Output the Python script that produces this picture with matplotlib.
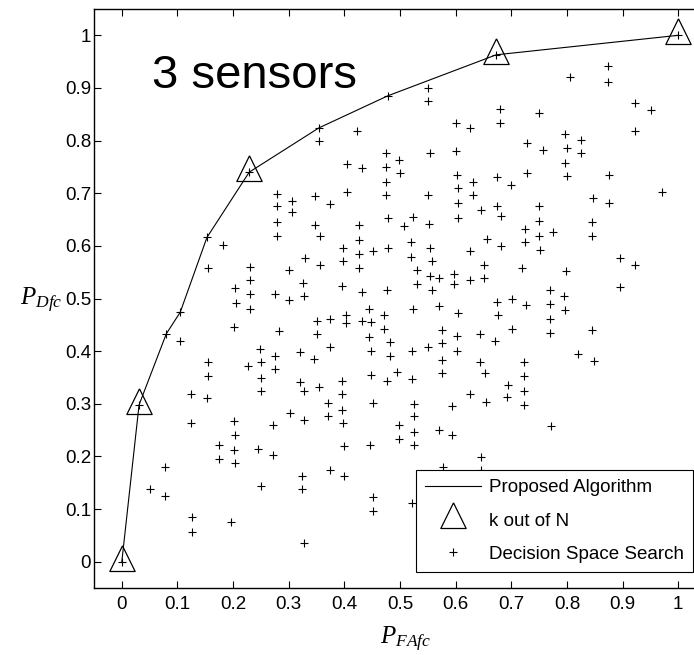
import matplotlib
matplotlib.use('Agg')
import matplotlib.pyplot as plt

plt.rcParams['font.family'] = ['Liberation Sans', 'DejaVu Sans']
plt.rcParams['mathtext.fontset'] = 'custom'
plt.rcParams['mathtext.it'] = 'Liberation Serif:italic'
plt.rcParams['mathtext.rm'] = 'Liberation Serif'

# ROC of the proposed algorithm
alg_x = [0, 0.031, 0.080, 0.105, 0.153, 0.229, 0.354, 0.478, 0.673, 1.0]
alg_y = [0, 0.298, 0.433, 0.474, 0.616, 0.740, 0.824, 0.885, 0.963, 1.0]

# k out of N rules
kn_x = [0, 0.031, 0.229, 0.673, 1.0]
kn_y = [0, 0.298, 0.740, 0.963, 1.0]

# decision space search points
ds_x = [0, 0.031, 0.229, 0.673, 1.0, 0.080, 0.105, 0.153, 0.354, 0.478,
        0.354, 0.423, 0.474, 0.499, 0.405, 0.431, 0.474, 0.500, 0.474, 0.474,
        0.405, 0.279, 0.279, 0.306, 0.306, 0.348, 0.375,
        0.550, 0.550, 0.805, 0.873, 0.873, 0.679, 0.679, 0.750, 0.600, 0.626,
        0.923, 0.952, 0.923, 0.554, 0.600, 0.729, 0.757, 0.797, 0.826, 0.800,
        0.826, 0.797, 0.800, 0.875, 0.550, 0.603, 0.605, 0.631, 0.631, 0.674,
        0.699, 0.729, 0.605, 0.645, 0.674, 0.750, 0.847, 0.876, 0.971,
        0.279, 0.279, 0.348, 0.357, 0.426, 0.426, 0.479, 0.181, 0.155, 0.231,
        0.231, 0.231, 0.231, 0.203, 0.206, 0.275, 0.300, 0.300, 0.330, 0.357,
        0.325, 0.327, 0.398, 0.398, 0.426, 0.426, 0.452, 0.479, 0.396, 0.431,
        0.477, 0.105, 0.201, 0.282, 0.351, 0.375, 0.403, 0.403, 0.431, 0.444,
        0.447, 0.472, 0.472, 0.351, 0.444, 0.482, 0.447, 0.482, 0.375, 0.320,
        0.345, 0.249, 0.251, 0.276, 0.276, 0.226, 0.155, 0.155, 0.251, 0.251,
        0.320, 0.327, 0.355, 0.396, 0.396, 0.448, 0.476, 0.494, 0.124, 0.153,
        0.370, 0.396, 0.370, 0.398, 0.451, 0.302, 0.327, 0.272, 0.201, 0.203,
        0.124, 0.175, 0.201, 0.175, 0.203, 0.244, 0.272, 0.400, 0.446, 0.499,
        0.499, 0.077, 0.077, 0.050, 0.323, 0.323, 0.375, 0.400, 0.251, 0.127,
        0.127, 0.196, 0.327, 0.451, 0.451,
        0.524, 0.507, 0.553, 0.605, 0.681, 0.750, 0.750, 0.775, 0.751, 0.724,
        0.724, 0.845, 0.845, 0.656, 0.681, 0.625, 0.520, 0.554, 0.520, 0.557,
        0.530, 0.554, 0.570, 0.597, 0.597, 0.625, 0.651, 0.651, 0.530, 0.557,
        0.719, 0.799, 0.896, 0.922, 0.896, 0.524, 0.570, 0.605, 0.674, 0.701,
        0.727, 0.676, 0.769, 0.769, 0.795, 0.797, 0.769, 0.769, 0.845, 0.575,
        0.575, 0.603, 0.603, 0.643, 0.671, 0.701, 0.550, 0.521, 0.575, 0.575,
        0.521, 0.643, 0.653, 0.722, 0.722, 0.722, 0.694, 0.820, 0.848, 0.625,
        0.526, 0.526, 0.526, 0.526, 0.570, 0.594, 0.594, 0.654, 0.693, 0.723,
        0.772, 0.645, 0.645, 0.577, 0.521]
ds_y = [0, 0.298, 0.740, 0.963, 1.0, 0.433, 0.474, 0.616, 0.824, 0.885,
        0.799, 0.818, 0.777, 0.764, 0.755, 0.747, 0.749, 0.738, 0.721, 0.697,
        0.702, 0.699, 0.675, 0.686, 0.664, 0.694, 0.679,
        0.900, 0.875, 0.921, 0.941, 0.912, 0.860, 0.834, 0.853, 0.834, 0.823,
        0.872, 0.859, 0.818, 0.776, 0.780, 0.795, 0.783, 0.812, 0.802, 0.786,
        0.776, 0.757, 0.732, 0.735, 0.697, 0.735, 0.709, 0.721, 0.697, 0.730,
        0.716, 0.738, 0.681, 0.668, 0.675, 0.675, 0.691, 0.681, 0.702,
        0.645, 0.618, 0.639, 0.618, 0.639, 0.612, 0.652, 0.602, 0.558, 0.560,
        0.536, 0.508, 0.481, 0.520, 0.492, 0.509, 0.497, 0.555, 0.577, 0.563,
        0.529, 0.505, 0.596, 0.571, 0.584, 0.558, 0.591, 0.596, 0.524, 0.512,
        0.516, 0.420, 0.445, 0.439, 0.457, 0.462, 0.468, 0.453, 0.457, 0.481,
        0.456, 0.469, 0.443, 0.433, 0.426, 0.418, 0.401, 0.391, 0.407, 0.398,
        0.385, 0.404, 0.379, 0.391, 0.366, 0.371, 0.379, 0.352, 0.349, 0.324,
        0.341, 0.325, 0.331, 0.344, 0.319, 0.355, 0.343, 0.360, 0.318, 0.311,
        0.301, 0.289, 0.276, 0.263, 0.301, 0.282, 0.270, 0.260, 0.267, 0.241,
        0.263, 0.221, 0.212, 0.196, 0.187, 0.215, 0.202, 0.219, 0.221, 0.260,
        0.234, 0.179, 0.125, 0.138, 0.163, 0.138, 0.174, 0.163, 0.144, 0.084,
        0.057, 0.076, 0.035, 0.122, 0.097,
        0.654, 0.637, 0.641, 0.653, 0.657, 0.647, 0.619, 0.626, 0.593, 0.632,
        0.607, 0.645, 0.618, 0.613, 0.599, 0.590, 0.607, 0.596, 0.579, 0.571,
        0.555, 0.543, 0.539, 0.546, 0.527, 0.536, 0.563, 0.539, 0.528, 0.516,
        0.558, 0.552, 0.577, 0.563, 0.522, 0.481, 0.485, 0.473, 0.493, 0.500,
        0.487, 0.468, 0.517, 0.490, 0.505, 0.478, 0.462, 0.435, 0.440, 0.440,
        0.415, 0.428, 0.401, 0.433, 0.420, 0.442, 0.408, 0.401, 0.384, 0.359,
        0.347, 0.379, 0.359, 0.379, 0.352, 0.325, 0.336, 0.395, 0.382, 0.318,
        0.300, 0.277, 0.246, 0.221, 0.250, 0.240, 0.296, 0.304, 0.312, 0.297,
        0.257, 0.199, 0.175, 0.180, 0.112]

ticks = [0, 0.1, 0.2, 0.3, 0.4, 0.5, 0.6, 0.7, 0.8, 0.9, 1]
tick_labels = ['0', '0.1', '0.2', '0.3', '0.4', '0.5', '0.6', '0.7', '0.8', '0.9', '1']

# matlab-like triangle, data point sits low inside the marker
tri = [(0, 1), (-0.76, -0.54), (0.76, -0.54), (0, 1)]

fig = plt.figure(figsize=(6.94, 6.55), dpi=100)
ax = fig.add_axes([94/694, 67/655, 612/694, 579/655])

ax.plot(alg_x, alg_y, 'k-', lw=0.8, label='Proposed Algorithm')
ax.plot(kn_x, kn_y, ls='none', marker=tri, ms=24, mfc='none', mec='k', mew=0.9,
        label='k out of N')
ax.plot(ds_x, ds_y, 'k+', ms=6, mew=0.8, label='Decision Space Search')

ax.set_xlim(-0.05, 1.05)
ax.set_ylim(-0.05, 1.05)
ax.set_xticks(ticks)
ax.set_xticklabels(tick_labels)
ax.set_yticks(ticks)
ax.set_yticklabels(tick_labels)
ax.tick_params(direction='in', top=True, right=True, length=4.7, width=0.8,
               labelsize=13.5)
ax.tick_params(axis='y', pad=2)
ax.tick_params(axis='x', pad=6)
for s in ax.spines.values():
    s.set_linewidth(1.0)

ax.text(0.054, 0.9, '3 sensors', fontsize=34, va='baseline')

fig.text(20/694, (655-305)/655, r'$P_{Dfc}$', fontsize=18, va='baseline')
fig.text(380/694, (655-644)/655, r'$P_{FAfc}$', fontsize=18, va='baseline')

leg = ax.legend(loc='lower right', bbox_to_anchor=(693/694, (655-572)/655),
                bbox_transform=fig.transFigure, borderaxespad=0, fontsize=13.5,
                fancybox=False, framealpha=1, edgecolor='k', handlelength=3.0,
                handletextpad=0.4, labelspacing=0.85, borderpad=0.5, numpoints=1)
leg.get_frame().set_linewidth(0.8)

plt.savefig('out.png', dpi=100)
